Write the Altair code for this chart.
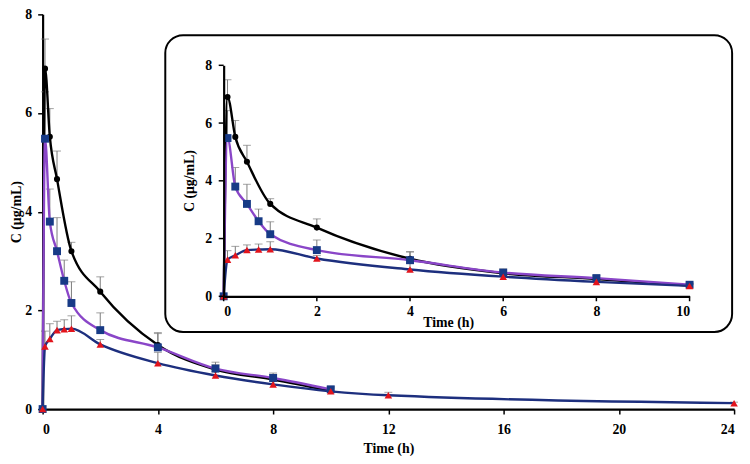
import altair as alt
import pandas as pd

# ---- data ----
time_a = [0, 0.083, 0.25, 0.5, 1, 2, 4, 6, 8, 10]
conc_a = [0, 6.90, 5.52, 4.66, 3.20, 2.38, 1.30, 0.80, 0.60, 0.37]
err_a = [0, 0.60, 0.57, 0.57, 0.18, 0.30, 0.25, 0.10, 0.10, 0.07]

time_b = [0, 0.083, 0.25, 0.5, 0.75, 1, 2, 4, 6, 8, 10]
conc_b = [0, 5.48, 3.80, 3.20, 2.60, 2.15, 1.60, 1.25, 0.82, 0.63, 0.40]
err_b = [0, 0.95, 0.66, 0.68, 0.42, 0.43, 0.35, 0.28, 0.13, 0.10, 0.06]

time_c = [0, 0.083, 0.25, 0.5, 0.75, 1, 2, 4, 6, 8, 10, 12, 24]
conc_c = [0, 1.27, 1.42, 1.60, 1.62, 1.63, 1.31, 0.93, 0.68, 0.50, 0.36, 0.28, 0.12]
err_c = [0, 0.31, 0.31, 0.18, 0.19, 0.26, 0.10, 0.22, 0.08, 0.06, 0.05, 0.06, 0.02]

x_ticks_main = [0, 4, 8, 12, 16, 20, 24]
x_ticks_inset = [0, 2, 4, 6, 8, 10]
y_ticks = [0, 2, 4, 6, 8]

rows = []
for name, ts, cs, es in [("A", time_a, conc_a, err_a),
                         ("B", time_b, conc_b, err_b),
                         ("C", time_c, conc_c, err_c)]:
    for t, c, e in zip(ts, cs, es):
        rows.append({"series": name, "t": t, "c": c, "top": c + e, "err": e})
df = pd.DataFrame(rows)
xtick_df = pd.DataFrame({"t": x_ticks_inset})
ytick_df = pd.DataFrame({"c": y_ticks})

FONT = "Liberation Serif"
W, H = 699, 399
IN_X0, IN_X1 = 183, 654      # inset plot extent inside the main plot area
IN_Y0, IN_Y1 = 285, 51.5

styles = {
    "A": dict(line="#000000", point="#000000", shape="circle", size=38),
    "B": dict(line="#8A46C8", point="#173A86", shape="square", size=64),
    "C": dict(line="#1D2F7E", point="#E2141C", shape="triangle-up", size=58),
}

axis_common = dict(
    grid=False, domainColor="black", domainWidth=2.2, tickColor="black",
    tickWidth=1.5, labelFont=FONT, labelFontWeight="bold",
    labelFontSize=14, labelColor="black", titleFont=FONT, titleFontSize=14,
    titleFontWeight="bold", titleColor="black",
)


def panel(xenc, yscale, yaxis, max_t, inset=False):
    yc = alt.Y("c:Q", scale=yscale, axis=yaxis)
    ytop = alt.Y("top:Q", scale=yscale, axis=yaxis)
    base = alt.Chart(df).transform_filter(alt.datum.t <= max_t)
    layers = []
    bars = base.transform_filter(alt.datum.err > 0)
    layers.append(bars.mark_rule(color="#7A7A7A", strokeWidth=1).encode(
        x=xenc, y=yc, y2="top:Q"))
    layers.append(bars.mark_tick(color="#7A7A7A", orient="horizontal",
                                 size=8, thickness=1).encode(x=xenc, y=ytop))
    for s in ["A", "B", "C"]:
        st = styles[s]
        layers.append(base.transform_filter(alt.datum.series == s).mark_line(
            color=st["line"], strokeWidth=2.4, interpolate="monotone").encode(
            x=xenc, y=yc, order="t:Q"))
    for s in ["A", "B", "C"]:
        st = styles[s]
        layers.append(base.transform_filter(alt.datum.series == s).mark_point(
            shape=st["shape"], filled=True, opacity=1, color=st["point"],
            size=st["size"]).encode(x=xenc, y=yc))
    if inset:
        layers.append(alt.Chart(xtick_df).mark_rule(color="black", strokeWidth=1.5).encode(
            x=xenc, y=alt.value(IN_Y0), y2=alt.value(IN_Y0 + 5)))
        layers.append(alt.Chart(ytick_df).mark_rule(color="black", strokeWidth=1.5).encode(
            y=yc, x=alt.value(IN_X0 - 5), x2=alt.value(IN_X0)))
    return alt.layer(*layers)


x_main = alt.X("t:Q", scale=alt.Scale(domain=[0, 24], nice=False),
               axis=alt.Axis(values=x_ticks_main, title="Time (h)", tickSize=5,
                             labelPadding=9, titleX=W / 2, titleY=40,
                             titleAlign="center", titleBaseline="middle",
                             **axis_common))
y_main_scale = alt.Scale(domain=[0, 8], nice=False)
y_main_axis = alt.Axis(values=y_ticks, title="C (μg/mL)", tickSize=5,
                       labelPadding=6, titleX=-26, titleY=H / 2,
                       titleAlign="center", titleBaseline="middle",
                       **axis_common)

x_in = alt.X("t:Q", scale=alt.Scale(domain=[0, 10], nice=False, range=[IN_X0, IN_X1]),
             axis=alt.Axis(values=x_ticks_inset, title="Time (h)", orient="top",
                           offset=-IN_Y0, ticks=False, tickSize=0,
                           labelBaseline="top", labelPadding=-8,
                           titleX=410, titleY=27, titleAngle=0,
                           titleAlign="center", titleBaseline="middle",
                           zindex=2, **axis_common))
y_in_scale = alt.Scale(domain=[0, 8], nice=False, range=[IN_Y0, IN_Y1])
y_in_axis = alt.Axis(values=y_ticks, title="C (μg/mL)", orient="right",
                     offset=IN_X0 - W, ticks=False, tickSize=0,
                     labelAlign="right", labelPadding=-12,
                     titleX=-34, titleY=168, titleAngle=270,
                     titleAlign="center", titleBaseline="middle",
                     zindex=2, **axis_common)

main = panel(x_main, y_main_scale, y_main_axis, 24)

box = alt.Chart(alt.Data(values=[{}])).mark_rect(
    fill="white", stroke="black", strokeWidth=2, cornerRadius=18).encode(
    x=alt.value(124), x2=alt.value(697), y=alt.value(21), y2=alt.value(321))

inset = panel(x_in, y_in_scale, y_in_axis, 10, inset=True)

chart = alt.layer(main, box, inset).resolve_scale(
    x="independent", y="independent").properties(
    width=W, height=H,
    autosize=alt.AutoSizeParams(type="none"),
    padding={"left": 35, "top": 4, "right": 8, "bottom": 45},
).configure_view(stroke=None)

chart.save("out.html", embed_options={"renderer": "svg", "actions": False})
